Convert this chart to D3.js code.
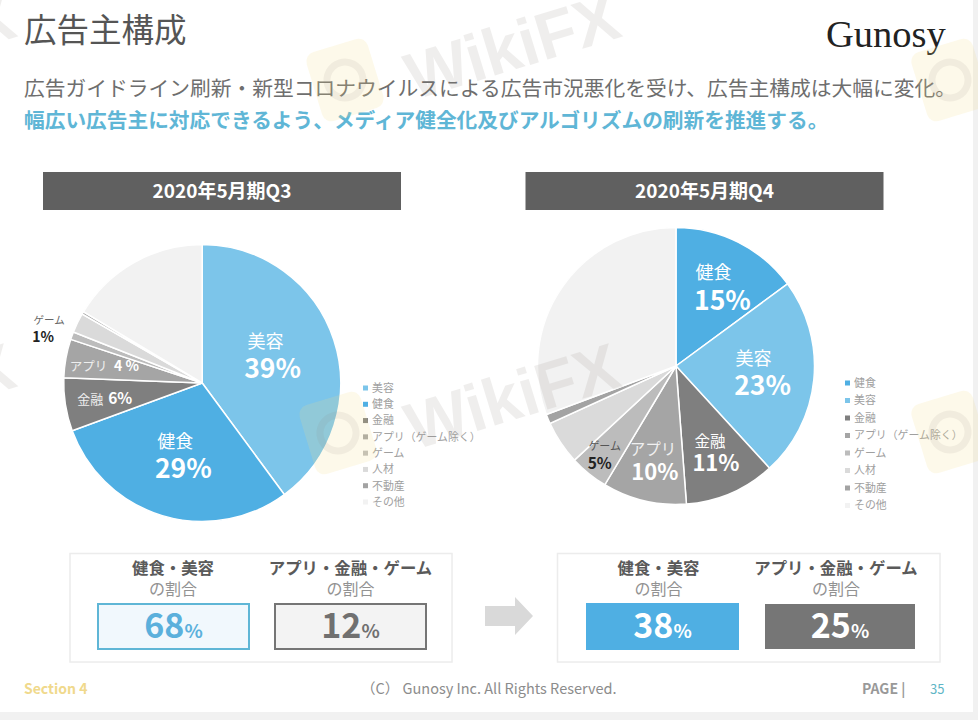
<!DOCTYPE html>
<html lang="ja">
<head>
<meta charset="utf-8">
<script src="https://cdnjs.cloudflare.com/ajax/libs/d3/7.8.5/d3.min.js"></script>
<style>
  html, body { margin: 0; padding: 0; background: #fff; }
  svg { display: block; }
  text { font-family: "Noto Sans CJK JP", "Noto Sans", sans-serif; }
</style>
</head>
<body>
<svg id="canvas" width="978" height="720"></svg>
<script>
const q3Categories = ['美容', '健食', '金融', 'アプリ', 'ゲーム', '人材', '不動産', 'その他']
const q3Values = [39.9, 29.5, 6.2, 4.5, 0.9, 2.3, 0.3, 16.4]
const q4Categories = ['健食', '美容', '金融', 'アプリ', 'ゲーム', '人材', '不動産', 'その他']
const q4Values = [14.9, 23.3, 10.6, 9.8, 4.5, 5.1, 1.1, 30.7]

const q3Legend = ['美容', '健食', '金融', 'アプリ（ゲーム除く）', 'ゲーム', '人材', '不動産', 'その他']
const q4Legend = ['健食', '美容', '金融', 'アプリ（ゲーム除く）', 'ゲーム', '人材', '不動産', 'その他']

const q3Shown = ['39%', '29%', '6%', '4 %', '1%']
const q4Shown = ['15%', '23%', '11%', '10%', '5%']

const summaryHeads = ['健食・美容', 'アプリ・金融・ゲーム']
const q3Summary = [68, 12]
const q4Summary = [38, 25]

const colors = d3.scaleOrdinal()
  .domain(['美容', '健食', '金融', 'アプリ', 'ゲーム', '人材', '不動産', 'その他'])
  .range(['#7cc5ea', '#4fafe3', '#7f7f7f', '#a5a5a5', '#bcbcbc', '#dadada', '#a3a3a3', '#f2f2f2'])

const canvas = d3.select('#canvas')
const font = (sel, size, fill, weight) => sel
  .attr('font-size', size).attr('fill', fill).attr('font-weight', weight || 400)

// page background
canvas.append('rect').attr('width', 978).attr('height', 720).attr('fill', '#fff')
canvas.append('rect').attr('x', 973).attr('width', 5).attr('height', 720).attr('fill', '#f1f1f1')
canvas.append('rect').attr('y', 712).attr('width', 978).attr('height', 8).attr('fill', '#f1f1f1')

// heading
font(canvas.append('text').attr('x', 24).attr('y', 42).text('広告主構成'), 32.5, '#555')
canvas.append('text').attr('x', 826).attr('y', 47).text('Gunosy')
  .attr('font-size', 38.5).attr('fill', '#222').style('font-family', '"Liberation Serif", serif')
font(canvas.append('text').attr('x', 24).attr('y', 96)
  .text('広告ガイドライン刷新・新型コロナウイルスによる広告市況悪化を受け、広告主構成は大幅に変化。'), 20.75, '#6e6e6e')
font(canvas.append('text').attr('x', 24).attr('y', 128)
  .text('幅広い広告主に対応できるよう、メディア健全化及びアルゴリズムの刷新を推進する。'), 20.7, '#5fb6d6', 700)

const arcLabelPoint = d3.arc().innerRadius(83).outerRadius(83)

const drawPie = (cfg) => {
  const g = canvas.append('g').attr('transform', `translate(${cfg.cx},${cfg.cy})`)
  const arc = d3.arc().innerRadius(0).outerRadius(138.5)
  const slices = d3.pie().sort(null)(cfg.values)

  g.selectAll('path')
    .data(slices)
    .enter()
    .append('path')
    .attr('d', arc)
    .attr('fill', (d, i) => colors(cfg.categories[i]))
    .attr('stroke', '#fff')
    .attr('stroke-width', 1.5)

  cfg.labels.forEach((label, i) => {
    const [x, y] = arcLabelPoint.centroid(slices[label.slice])
    font(g.append('text').attr('x', x + label.nameAt[0]).attr('y', y + label.nameAt[1])
      .attr('text-anchor', 'middle').text(cfg.categories[label.slice]), label.nameSize, label.nameFill)
    font(g.append('text').attr('x', x + label.pctAt[0]).attr('y', y + label.pctAt[1])
      .attr('text-anchor', 'middle').text(cfg.shown[i]), label.pctSize, label.pctFill, 700)
  })

  // legend
  const rows = d3.scalePoint().domain(cfg.legend).range(cfg.legendY)
  const legend = canvas.append('g').selectAll('g')
    .data(cfg.legend)
    .enter()
    .append('g')
    .attr('transform', (d) => `translate(${cfg.legendX},${rows(d)})`)
  legend.append('rect').attr('x', -3).attr('y', -2.5).attr('width', 5).attr('height', 5)
    .attr('fill', (d) => colors(d.replace('（ゲーム除く）', '')))
  legend.append('text').attr('x', 6).attr('y', 3.8).text((d) => d)
    .attr('font-size', 10.9).attr('fill', '#a0a0a0')
}

const white = '#fff'

drawPie({
  cx: 202.2, cy: 383,
  categories: q3Categories, values: q3Values, legend: q3Legend, shown: q3Shown,
  legendX: 366, legendY: [388, 502],
  labels: [
    { slice: 0, nameAt: [-15.5, -9], pctAt: [-8.5, 21], nameSize: 18, pctSize: 26.5, nameFill: white, pctFill: white },
    { slice: 1, nameAt: [-3, -14.5], pctAt: [5, 15.5], nameSize: 18, pctSize: 26.5, nameFill: white, pctFill: white },
    { slice: 2, nameAt: [-30, 8], pctAt: [0, 8], nameSize: 13, pctSize: 15.5, nameFill: '#eee', pctFill: white },
    { slice: 3, nameAt: [-32, 3], pctAt: [6, 3], nameSize: 12.5, pctSize: 14, nameFill: '#eee', pctFill: white },
    { slice: 4, nameAt: [-75, -31], pctAt: [-81, -13], nameSize: 10.5, pctSize: 14, nameFill: '#666', pctFill: '#222' }
  ]
})

drawPie({
  cx: 676, cy: 366,
  categories: q4Categories, values: q4Values, legend: q4Legend, shown: q4Shown,
  legendX: 848, legendY: [383, 505.5],
  labels: [
    { slice: 0, nameAt: [0, -13], pctAt: [9, 18], nameSize: 18, pctSize: 26.5, nameFill: white, pctFill: white },
    { slice: 1, nameAt: [-5, -9], pctAt: [4, 21], nameSize: 18, pctSize: 26.5, nameFill: white, pctFill: white },
    { slice: 2, nameAt: [1, 5], pctAt: [7, 29], nameSize: 15.5, pctSize: 22, nameFill: white, pctFill: white },
    { slice: 3, nameAt: [-4, 8], pctAt: [-2, 33], nameSize: 15.5, pctSize: 22, nameFill: '#f0f0f0', pctFill: white },
    { slice: 4, nameAt: [-19, 20], pctAt: [-24, 39], nameSize: 11, pctSize: 15.5, nameFill: '#555', pctFill: '#222' }
  ]
})

// period bars
const drawBar = (x, label) => {
  canvas.append('rect').attr('x', x).attr('y', 172).attr('width', 358).attr('height', 38).attr('fill', '#606060')
  font(canvas.append('text').attr('x', x + 179).attr('y', 198).attr('text-anchor', 'middle').text(label), 19, '#fff', 700)
}
drawBar(43, '2020年5月期Q3')
drawBar(525.5, '2020年5月期Q4')

// summary panels
const drawSummary = (panelX, panelW, cells, values) => {
  canvas.append('rect').attr('x', panelX).attr('y', 553.5).attr('width', panelW).attr('height', 108.5)
    .attr('fill', '#fff').attr('stroke', '#ececec').attr('stroke-width', 1.5)
  cells.forEach((cell, i) => {
    const mid = cell.x + cell.w / 2
    font(canvas.append('text').attr('x', mid + cell.headShift).attr('y', 574).attr('text-anchor', 'middle')
      .text(summaryHeads[i]), 16.4, '#5a5a5a', 700)
    font(canvas.append('text').attr('x', mid + cell.headShift).attr('y', 595).attr('text-anchor', 'middle')
      .text('の割合'), 16, '#929292')
    canvas.append('rect').attr('x', cell.x).attr('y', cell.y).attr('width', cell.w).attr('height', cell.h)
      .attr('fill', cell.fill).attr('stroke', cell.stroke || 'none').attr('stroke-width', 2)
    const t = canvas.append('text').attr('x', mid).attr('y', 638).attr('text-anchor', 'middle')
      .attr('fill', cell.ink).attr('font-weight', 700)
    t.append('tspan').attr('font-size', 34).text(values[i])
    t.append('tspan').attr('font-size', 19).text('%')
  })
}
drawSummary(70, 382, [
  { x: 98, y: 604, w: 151, h: 45, fill: '#f1f8fd', stroke: '#5fb6d6', ink: '#5bb0dc', headShift: -0.5 },
  { x: 275, y: 604, w: 151, h: 45, fill: '#f3f3f3', stroke: '#757575', ink: '#707070', headShift: 0 }
], q3Summary)
drawSummary(557.5, 382.5, [
  { x: 586, y: 603, w: 153, h: 47, fill: '#4fafe3', ink: '#fff', headShift: -4 },
  { x: 765, y: 604, w: 150, h: 45, fill: '#767676', ink: '#fff', headShift: -4 }
], q4Summary)

// arrow between the panels
canvas.append('path')
  .attr('d', d3.line()([[485, 606], [515, 606], [515, 597], [533, 616], [515, 635], [515, 626], [485, 626]]) + 'Z')
  .attr('fill', '#d9d9d9')

// footer
font(canvas.append('text').attr('x', 24).attr('y', 694).text('Section 4'), 14, '#f0d98c', 700)
font(canvas.append('text').attr('x', 361).attr('y', 694).text('（C） Gunosy Inc. All Rights Reserved.'), 14.5, '#8c8c8c')
font(canvas.append('text').attr('x', 862).attr('y', 694).text('PAGE |'), 14, '#999', 700)
font(canvas.append('text').attr('x', 930).attr('y', 694).text('35'), 13, '#5fb6c6')

// watermark
const logoSpots = [[345, 80], [950, 80], [338, 433], [950, 432]]
const wordSpots = [[-260, 90], [345, 90], [-260, 440], [345, 440]]
const logos = canvas.append('g').selectAll('g')
  .data(logoSpots)
  .enter()
  .append('g')
  .attr('transform', (d) => `translate(${d[0]},${d[1]}) rotate(-17)`)
logos.append('rect').attr('x', -32).attr('y', -36).attr('width', 64).attr('height', 72).attr('rx', 10)
  .attr('fill', '#f6dc8c').attr('opacity', 0.18)
logos.append('circle').attr('r', 18).attr('fill', 'none').attr('stroke', '#8a8078')
  .attr('stroke-width', 7).attr('opacity', 0.1)
canvas.append('g').selectAll('text')
  .data(wordSpots)
  .enter()
  .append('text')
  .attr('transform', (d) => `translate(${d[0]},${d[1]}) rotate(-17)`)
  .attr('x', 63).attr('y', 30).text('WikiFX')
  .attr('font-size', 66).attr('font-weight', 700).attr('fill', '#8a8078').attr('opacity', 0.13)
  .style('font-family', '"Liberation Sans", sans-serif')
</script>
</body>
</html>
